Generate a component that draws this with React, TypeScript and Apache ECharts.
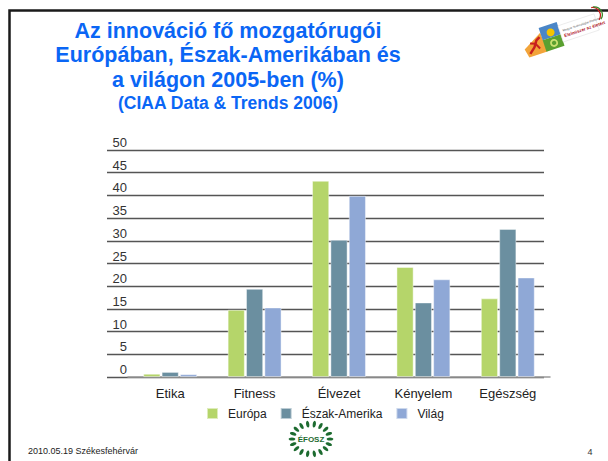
import React, { useEffect, useRef } from "react";
import * as echarts from "echarts";

const categories = ["Etika", "Fitness", "Élvezet", "Kényelem", "Egészség"];
const seriesNames = ["Európa", "Észak-Amerika", "Világ"];
const europa = [0.7, 14.8, 43.2, 24.2, 17.3];
const eszakAmerika = [1.1, 19.4, 30.2, 16.4, 32.6];
const vilag = [0.6, 15.3, 39.9, 21.5, 21.9];
const seriesColors = ["#b5d56a", "#6b8fa0", "#8fa8d6"];
const titleLines = [
  "Az innováció fő mozgatórugói",
  "Európában, Észak-Amerikában és",
  "a világon 2005-ben (%)",
];
const subtitle = "(CIAA Data & Trends 2006)";
const footerLeft = "2010.05.19 Székesfehérvár";
const pageNumber = "4";

const FONT = "Arial, 'Liberation Sans', sans-serif";

function efoszLogo(cx: number, cy: number) {
  const leaves: any[] = [];
  const n = 18;
  for (let i = 0; i < n; i++) {
    const a = (i / n) * Math.PI * 2;
    const rx = 19;
    const ry = 15;
    leaves.push({
      type: "ellipse",
      x: cx + Math.cos(a) * rx,
      y: cy + Math.sin(a) * ry,
      rotation: -a + Math.PI / 2,
      shape: { cx: 0, cy: 0, rx: 1.6, ry: 3.4 },
      style: { fill: "#1d6b30" },
    });
  }
  leaves.push({
    type: "text",
    x: cx,
    y: cy,
    style: {
      text: "ÉFOSZ",
      font: `bold 8px ${FONT}`,
      fill: "#1d6b30",
      align: "center",
      verticalAlign: "middle",
    },
  });
  return leaves;
}

function topLogo() {
  return {
    type: "group",
    x: 562,
    y: 35,
    rotation: 0.32,
    children: [
      {
        type: "polygon",
        shape: { points: [[-40, 2], [-20, -9], [-19, 11], [-38, 11]] },
        style: { fill: "#f2a43a" },
      },
      {
        type: "polyline",
        shape: { points: [[-36, 8], [-30, 3], [-26, -3], [-22, -5]] },
        style: { stroke: "#c8201f", lineWidth: 2.5 },
      },
      {
        type: "polyline",
        shape: { points: [[-33, -2], [-28, 0], [-25, 6]] },
        style: { stroke: "#c8201f", lineWidth: 2 },
      },
      {
        type: "rect",
        shape: { x: -20, y: -14, width: 19, height: 13 },
        style: { fill: "#4a86c8" },
      },
      {
        type: "circle",
        shape: { cx: -10, cy: -6, r: 4 },
        style: { fill: "#f5c400" },
      },
      {
        type: "rect",
        shape: { x: -20, y: -1, width: 19, height: 12 },
        style: { fill: "#5aa030" },
      },
      {
        type: "ring",
        shape: { cx: -10, cy: 5, r: 4, r0: 2.2 },
        style: { fill: "#c9e070" },
      },
      {
        type: "rect",
        shape: { x: -1, y: -10, width: 38, height: 17 },
        style: { fill: "#ffffff", stroke: "#dddddd", lineWidth: 0.5 },
      },
      {
        type: "text",
        x: 2,
        y: -4,
        style: {
          text: "Magyar Technológiai Platform",
          font: `3px ${FONT}`,
          fill: "#555",
          verticalAlign: "middle",
        },
      },
      {
        type: "text",
        x: 2,
        y: 1.5,
        style: {
          text: "Élelmiszer az életért",
          font: `bold 4.5px ${FONT}`,
          fill: "#b0202a",
          verticalAlign: "middle",
        },
      },
      {
        type: "arc",
        shape: { cx: 35, cy: -9, r: 8, startAngle: -1.4, endAngle: 0.9 },
        style: { stroke: "#c8201f", lineWidth: 1.3, fill: "none" },
      },
      {
        type: "arc",
        shape: { cx: 37, cy: -9, r: 8, startAngle: -1.4, endAngle: 0.9 },
        style: { stroke: "#3a8a2a", lineWidth: 1.3, fill: "none" },
      },
    ],
  };
}

export default function App() {
  const ref = useRef<HTMLDivElement>(null);

  useEffect(() => {
    if (!ref.current) return;
    const chart = echarts.init(ref.current, null, { renderer: "svg" });

    const titleY = [30.5, 55, 79.5];
    const graphics: any[] = [
      {
        type: "polyline",
        shape: { points: [[9.5, 470], [9.5, 10.5], [620, 10.5]] },
        style: { stroke: "#1a1a1a", lineWidth: 2.5, fill: "none" },
      },
      ...titleLines.map((t, i) => ({
        type: "text",
        x: 228,
        y: titleY[i],
        style: {
          text: t,
          font: `bold 21.5px ${FONT}`,
          fill: "#0a66f5",
          align: "center",
          verticalAlign: "middle",
        },
      })),
      {
        type: "text",
        x: 228,
        y: 103,
        style: {
          text: subtitle,
          font: `bold 17.5px ${FONT}`,
          fill: "#0a66f5",
          align: "center",
          verticalAlign: "middle",
        },
      },
      {
        type: "text",
        x: 28,
        y: 451,
        style: {
          text: footerLeft,
          font: `9px ${FONT}`,
          fill: "#222",
          verticalAlign: "middle",
        },
      },
      {
        type: "text",
        x: 590,
        y: 452,
        style: {
          text: pageNumber,
          font: `9px ${FONT}`,
          fill: "#333",
          align: "center",
          verticalAlign: "middle",
        },
      },
      ...efoszLogo(311, 439),
      topLogo(),
    ];

    const mk = (name: string, data: number[], color: string) => ({
      name,
      type: "bar",
      xAxisIndex: 0,
      yAxisIndex: 0,
      data,
      barWidth: 17,
      barGap: "8%",
      z: 3,
      itemStyle: { color, borderColor: "rgba(255,255,255,0.55)", borderWidth: 0.8 },
    });

    chart.setOption({
      animation: false,
      backgroundColor: "#ffffff",
      textStyle: { fontFamily: FONT },
      graphic: graphics,
      grid: [
        { left: 128, right: 58, top: 150, bottom: 84 },
        { left: 107, right: 64, top: 150, bottom: 84 },
      ],
      xAxis: [
        {
          type: "category",
          gridIndex: 0,
          data: categories,
          axisLine: { show: true, lineStyle: { color: "#9a9a9a", width: 1.5 } },
          axisTick: { show: false },
          axisLabel: { fontSize: 13, color: "#222", margin: 10, fontFamily: FONT },
          z: 2,
        },
        {
          type: "value",
          gridIndex: 1,
          show: false,
          min: 0,
          max: 1,
        },
      ],
      yAxis: [
        {
          type: "value",
          gridIndex: 0,
          min: 0,
          max: 50,
          interval: 5,
          axisLine: { show: false },
          axisTick: { show: false },
          axisLabel: { show: false },
          splitLine: { show: false },
        },
        {
          type: "value",
          gridIndex: 1,
          min: 0,
          max: 50,
          interval: 5,
          axisLine: { show: false },
          axisTick: { show: false },
          axisLabel: {
            inside: true,
            margin: 20,
            align: "right",
            verticalAlign: "bottom",
            fontSize: 13,
            color: "#333",
            fontFamily: FONT,
            padding: [0, 0, 1, 0],
          },
          splitLine: { show: true, lineStyle: { color: "#555", width: 1.3 } },
        },
      ],
      legend: {
        data: seriesNames,
        left: 206,
        top: 407,
        padding: 0,
        icon: "rect",
        itemWidth: 11,
        itemHeight: 11,
        itemGap: 13,
        textStyle: { fontSize: 12, color: "#222", padding: [0, 0, 0, 5], fontFamily: FONT },
      },
      series: [
        mk(seriesNames[0], europa, seriesColors[0]),
        mk(seriesNames[1], eszakAmerika, seriesColors[1]),
        mk(seriesNames[2], vilag, seriesColors[2]),
      ],
    });

    return () => chart.dispose();
  }, []);

  return (
    <div
      ref={ref}
      style={{ position: "fixed", left: 0, top: 0, width: 608, height: 461 }}
    />
  );
}
